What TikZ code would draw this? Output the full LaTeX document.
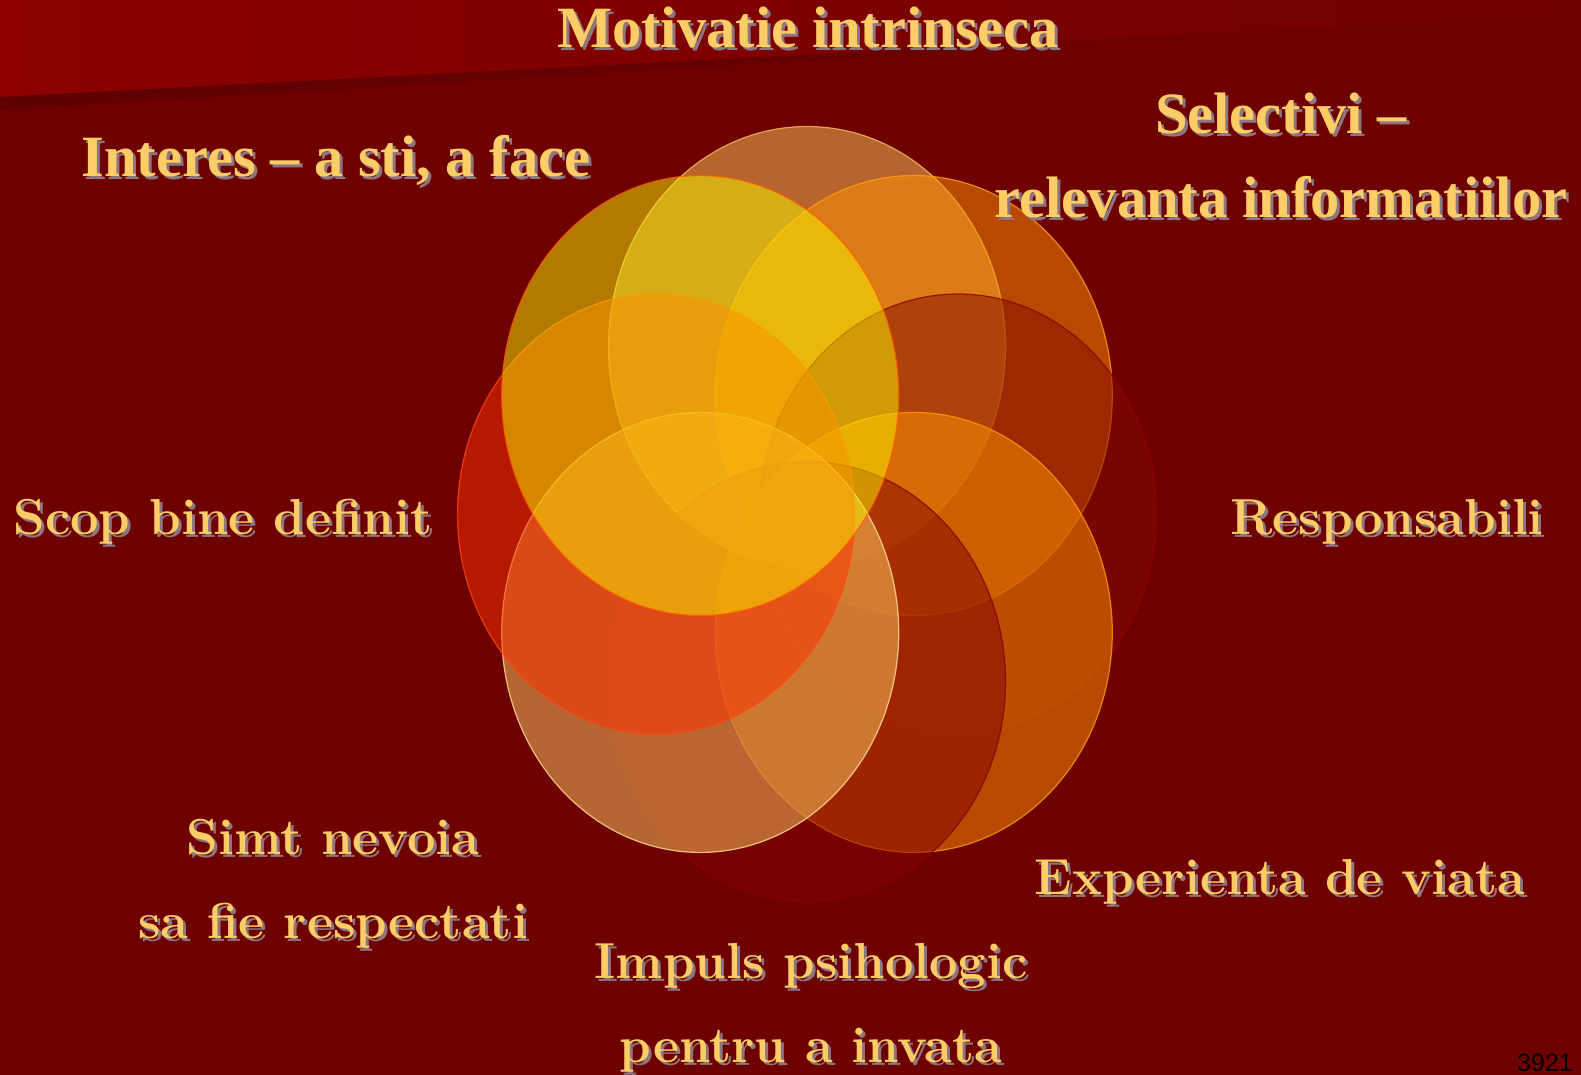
\documentclass[tikz,border=0pt]{standalone}
\usepackage{fontspec}
\newfontfamily\tnr{Liberation Serif}
\newfontfamily\arial{Liberation Sans}
\usetikzlibrary{positioning,calc}

\definecolor{bgred}{RGB}{111,0,0}
\definecolor{bgtop}{RGB}{140,0,0}
\definecolor{labcol}{RGB}{255,204,102}
\definecolor{labshd}{RGB}{140,118,128}
% ring fills
\definecolor{cTop}{RGB}{255,200,94}
\definecolor{cTR}{RGB}{255,148,0}
\definecolor{cR}{RGB}{132,10,0}
\definecolor{cBR}{RGB}{255,148,0}
\definecolor{cB}{RGB}{130,0,0}
\definecolor{cBL}{RGB}{254,204,100}
\definecolor{cL}{RGB}{255,48,0}
\definecolor{cTL}{RGB}{246,244,0}
% ring outlines
\definecolor{lTop}{RGB}{245,190,95}
\definecolor{lTR}{RGB}{255,160,20}
\definecolor{lR}{RGB}{145,0,0}
\definecolor{lBR}{RGB}{255,155,10}
\definecolor{lB}{RGB}{135,0,0}
\definecolor{lBL}{RGB}{255,225,150}
\definecolor{lL}{RGB}{255,70,10}
\definecolor{lTL}{RGB}{255,90,0}

\newcommand\tfont{\tnr\bfseries\fontsize{58.5}{84}\selectfont}
\newcommand\gfont{\bfseries\fontsize{50.6}{84}\selectfont}

% name, position (baseline of last line), font, text
\newcommand\shadowlabel[4]{%
  \node[lab, text=labshd, font=#3] (#1-s) at ($(#2)+(3,3)$) {#4};
  \node[lab, font=#3] (#1) at (#2) {#4};}

\begin{document}
\begin{tikzpicture}[
  x=1pt, y=-1pt,
  lab/.style ={text=labcol, inner sep=0pt, anchor=base, align=center},
  ell/.style ={fill opacity=.5, draw opacity=.8, line width=1.2pt},
]
\useasboundingbox (0,0) rectangle (1581,1075);
\fill[bgred] (0,0) rectangle (1581,1075);

%% ---------------- corner band ----------------
\shade[left color=bgtop, right color=bgred] (0,0) -- (1581,0) -- (1581,14) -- (0,97) -- cycle;
\shade[left color=black!15!bgred, right color=bgred] (0,97) -- (1581,14) -- (0,110) -- cycle;

%% ---------------- ring of ellipses ----------------
\coordinate (ring) at (807,514);
\foreach \ang/\fc/\lc [count=\k] in {-90/cTop/lTop, -45/cTR/lTR, 0/cR/lR, 45/cBR/lBR,
    90/cB/lB, 135/cBL/lBL, 180/cL/lL, 225/cTL/lTL}{
  \path[ell, fill=\fc, draw=\lc] ($(ring)+(\ang:151 and 167.5)$) coordinate (e\k)
    ellipse [x radius=198.5pt, y radius=220pt];
}

%% ---------------- labels ----------------
\shadowlabel{motiv}{808,48}{\tfont}{Motivatie intrinseca}
\shadowlabel{inter}{336,177}{\tfont}{Interes – a sti, a face}
\shadowlabel{select}{1281,218}{\tfont}{Selectivi –\\ relevanta informatiilor}
\shadowlabel{scop}{223,534}{\gfont}{Scop bine definit}
\shadowlabel{resp}{1387,534}{\gfont}{Responsabili}
\shadowlabel{simt}{333,938}{\gfont}{Simt nevoia\\ sa fie respectati}
\shadowlabel{exper}{1280,894}{\gfont}{Experienta de viata}
\shadowlabel{impuls}{811,1062}{\gfont}{Impuls psihologic\\ pentru a invata}

\node[font=\arial\fontsize{25}{30}\selectfont, inner sep=0pt, anchor=base east] (num) at (1573,1071) {3921};

\end{tikzpicture}
\end{document}
